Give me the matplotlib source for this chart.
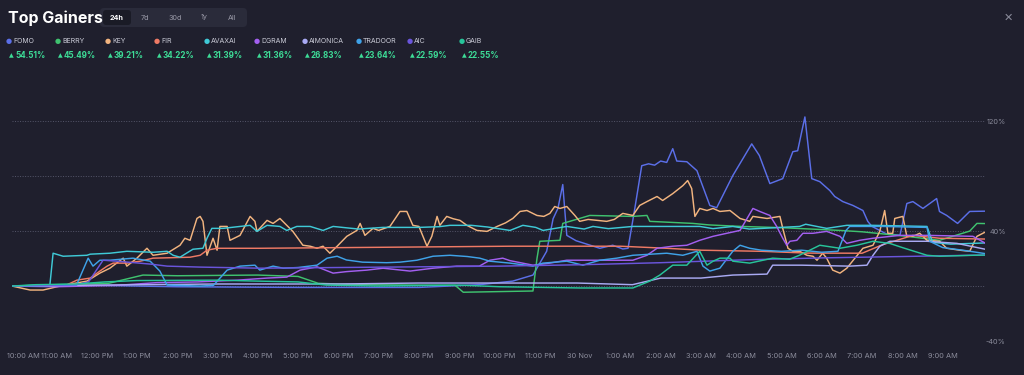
import matplotlib
matplotlib.use("Agg")
import matplotlib.pyplot as plt
import matplotlib.patches as mpatches
from matplotlib.transforms import IdentityTransform, ScaledTranslation

plt.rcParams['font.family'] = ['Inter', 'DejaVu Sans']

# ---- data (hours since midnight of the first day, percent change) ----
names = ["FOMO", "BERRY", "KEY", "FIR", "AVAXAI", "DGRAM", "AIMONICA", "TRADOOR", "AIC", "GAIB"]
gains = [54.51, 45.49, 39.21, 34.22, 31.39, 31.36, 26.83, 23.64, 22.59, 22.55]
colors = ["#5b6fe8", "#3fc26f", "#f2b47f", "#ef7a65", "#3fc9d6",
          "#a35ff0", "#a9aaf3", "#3fa2e8", "#6a55dc", "#27c49a"]

fomo_t = [9.9, 12.0, 14.0, 17.0, 20.0, 21.5, 22.33, 22.83, 23.17, 23.33, 23.45, 23.57, 23.67, 23.9,
          24.49, 24.81, 25.06, 25.19, 25.35, 25.53, 25.7, 25.85, 26.0, 26.15, 26.3, 26.4, 26.65, 26.9,
          27.22, 27.39, 27.79, 28.26, 28.45, 28.71, 29.03, 29.28, 29.4, 29.58, 29.75, 29.95, 30.2,
          30.32, 30.52, 30.77, 31.02, 31.14, 31.24, 31.6, 31.94, 32.11, 32.26, 32.51, 32.85, 32.92,
          33.1, 33.37, 33.67, 34.05]
fomo_v = [0, 0.5, -0.5, -1, -1, 1, 3.6, 8, 25.3, 49, 56.5, 73.9, 36.9, 33,
          27.5, 29.7, 27, 27.5, 55, 87.6, 89, 88, 91, 90, 100, 91, 90.5, 84,
          58.7, 57, 80.4, 103.5, 95, 74.6, 78.2, 97.8, 98.5, 123.1, 78.2, 76, 69.5,
          65.2, 61.5, 58.7, 55, 47.1, 43.5, 38, 37, 60.1, 61.5, 56.5, 63.7, 54.3,
          51.4, 45.6, 54.3, 54.51]

berry_t = [9.9, 11.0, 12.3, 13.15, 14.0, 16.0, 17.0, 17.5, 18.5, 20.9, 21.1, 22.83, 22.93, 23.0,
           23.5, 23.57, 24.24, 25.31, 25.66, 25.73, 26.8, 27.2, 28.0, 29.0, 30.45, 31.0, 32.11,
           32.92, 33.67, 33.85, 34.05]
berry_v = [0, 1, 2, 8, 7.5, 8, 7, 2, 1, 0.5, -4.5, -3.6, 20, 32.6,
           33.3, 45.6, 51.4, 50.7, 51.4, 47.1, 45.6, 44.5, 43.4, 42.5, 40.5, 39.5, 36.2,
           33.3, 40, 45.6, 45.49]

key_t = [9.9, 10.35, 10.67, 11.09, 11.76, 12.08, 12.33, 12.66, 12.75, 13.0, 13.25, 13.4, 13.75,
         14.07, 14.19, 14.32, 14.49, 14.57, 14.64, 14.74, 14.89, 14.99, 15.06, 15.24, 15.31, 15.56,
         15.81, 15.93, 15.98, 16.23, 16.38, 16.55, 16.72, 16.87, 17.12, 17.3, 17.47, 17.62, 17.79,
         17.97, 18.21, 18.46, 18.54, 18.66, 18.86, 19.0, 19.28, 19.53, 19.7, 19.85, 20.0, 20.15,
         20.2, 20.32, 20.45, 20.52, 20.69, 20.85, 21.02, 21.19, 21.44, 21.69, 21.94, 22.15, 22.33,
         22.51, 22.68, 22.93, 23.1, 23.25, 23.37, 23.5, 23.67, 23.87, 23.99, 24.2, 24.42, 24.66,
         24.85, 25.06, 25.31, 25.48, 25.66, 25.91, 26.05, 26.3, 26.55, 26.67, 26.77, 26.85, 26.97,
         27.15, 27.3, 27.47, 27.72, 27.97, 28.21, 28.29, 28.64, 28.96, 29.03, 29.16, 29.28, 29.45,
         29.63, 29.78, 29.88, 30.02, 30.12, 30.27, 30.45, 30.62, 30.82, 31.02, 31.27, 31.44, 31.56,
         31.64, 31.76, 31.81, 32.01, 32.11, 32.26, 32.43, 32.61, 32.92, 33.1, 33.42, 33.67, 33.85,
         34.05]
key_v = [0, -2.9, -2.9, 0, 3.6, 9.4, 13.0, 20.3, 14.5, 20.3, 27.5, 22.4, 23.9,
         29.7, 34.8, 33.3, 49.2, 50.7, 47.1, 22.4, 34.8, 26.1, 43.4, 43.4, 33.3, 36.9,
         50.7, 47.1, 39.8, 47.8, 45.6, 49.2, 44.2, 39.8, 29.7, 29.0, 27.5, 29.0, 23.9,
         29.0, 36.2, 40.5, 45.6, 36.9, 42.0, 40.5, 43.4, 54.3, 54.3, 44.2, 43.4, 32.6,
         29.0, 36.2, 50.7, 44.2, 50.7, 49.0, 47.8, 44.2, 40.5, 39.8, 43.4, 46.0, 49.2,
         54.3, 55.0, 51.4, 50.7, 52.9, 57.9, 56.5, 57.9, 51.4, 47.1, 48.5, 47.8, 47.1,
         48.5, 52.9, 51.4, 58.7, 61.5, 65.2, 62.3, 67.3, 73.1, 76.8, 71.0, 50.7, 56.5,
         55.0, 56.5, 54.3, 55.0, 49.2, 47.1, 50.7, 49.2, 50.7, 42.0, 27.5, 25.3, 25.3,
         22.4, 21.7, 18.8, 23.9, 20.3, 11.6, 9.4, 13.0, 20.3, 27.5, 29.7, 40.0, 55.0,
         38.4, 38.4, 49.2, 50.7, 36.2, 36.2, 38.4, 33.3, 32.6, 27.5, 26.1, 25.3, 36.2,
         39.21]

fir_t = [9.9, 11.2, 11.51, 11.84, 12.08, 12.26, 12.41, 12.75, 13.08, 13.4, 14.32, 14.57, 14.74,
         14.99, 16.05, 19.0, 22.26, 25.0, 26.15, 27.0, 28.5, 29.63, 31.0, 31.5, 32.26, 32.92, 34.05]
fir_v = [0, 0, 4.3, 5.8, 10.9, 14.5, 16.7, 16.7, 18.1, 20.3, 21.0, 22.4, 26.1,
         27.5, 27.5, 28.2, 29.0, 29.0, 27.5, 26.1, 25.3, 24.0, 23.9, 30, 36.9, 34.8, 34.22]

avax_t = [9.9, 10.84, 10.92, 11.17, 11.76, 11.84, 12.33, 12.75, 13.4, 13.75, 13.9, 14.07, 14.39,
          14.64, 14.74, 14.86, 15.14, 15.56, 15.81, 15.98, 16.23, 16.55, 16.72, 16.97, 17.3, 17.62,
          17.87, 18.5, 19.11, 20.0, 20.5, 20.77, 21.3, 21.7, 22.26, 22.58, 22.9, 23.08, 23.67,
          24.1, 24.32, 24.7, 25.31, 26.0, 26.97, 27.3, 27.79, 28.2, 29.45, 29.6, 30.12, 30.62,
          31.27, 32.61, 32.75, 33.2, 34.05]
avax_v = [0, 0.7, 23.9, 21.7, 22.4, 23.2, 23.9, 25.3, 24.6, 25.3, 22.4, 21.0, 26.8,
          27.5, 34.8, 42.0, 42.0, 43.4, 44.2, 39.8, 44.2, 43.4, 40.5, 43.4, 43.4, 40.5,
          43.4, 41.5, 42.7, 42.7, 43.2, 44.2, 44.2, 43.0, 40.5, 44.2, 42.7, 40.5, 43.4,
          41.5, 43.4, 41.8, 43.4, 43.4, 43.4, 41.8, 43.4, 41.5, 43.4, 45.0, 42.0, 44.2,
          44.2, 43.4, 31.8, 30.5, 31.39]

dgram_t = [9.9, 11.0, 12.5, 13.5, 14.5, 15.5, 16.23, 16.72, 17.05, 17.47, 17.87, 18.2, 18.71,
           19.11, 19.78, 20.35, 20.94, 21.5, 21.76, 22.08, 22.26, 22.83, 23.25, 23.67, 24.49,
           25.31, 25.66, 25.91, 26.3, 26.65, 26.97, 27.3, 27.64, 27.97, 28.29, 28.46, 28.71, 28.88,
           29.03, 29.13, 29.21, 29.38, 29.53, 29.78, 30.12, 30.45, 30.62, 30.94, 31.27, 31.94,
           32.61, 33.75, 34.05]
dgram_v = [0, -0.5, 0.5, 2.5, 3, 4.3, 5.8, 6.5, 11.6, 14, 9.4, 10.5, 11.6,
           13.0, 10.9, 13.0, 14.5, 14.5, 18.8, 20.3, 18.5, 15.2, 16.7, 18.8, 18.8,
           18.8, 22.4, 27.5, 29.0, 29.7, 33.3, 36.2, 38.4, 40.5, 56.5, 54.3, 51.4, 43.4,
           34.8, 29.7, 32.6, 33.3, 38.4, 38.4, 39.8, 36.2, 31.1, 33.3, 34.8, 36.9,
           36.9, 36.2, 31.36]

aimon_t = [9.9, 12.0, 15.0, 18.0, 20.0, 22.0, 23.5, 23.92, 25.3, 26.0, 27.0, 27.79, 28.64,
           28.78, 29.5, 30.69, 31.12, 31.27, 31.44, 31.69, 32.61, 33.35, 34.05]
aimon_v = [0, 0.7, 1.5, 1.5, 2.2, 2.2, 2.2, 2.2, 1, 5.8, 5.8, 8.0, 8.7,
           15.2, 15.2, 14.5, 15.2, 22.4, 29.0, 32.6, 32.6, 31.1, 26.83]

trad_t = [9.9, 11.5, 11.79, 11.91, 12.08, 12.33, 12.9, 13.33, 13.57, 13.75, 14.57, 14.9, 15.24,
          15.56, 15.93, 16.05, 16.38, 16.63, 17.0, 17.47, 17.72, 17.97, 18.2, 18.6, 19.2, 19.53,
          19.95, 20.35, 20.77, 21.2, 21.51, 21.76, 22.26, 22.83, 23.08, 23.67, 24.07, 24.49,
          24.91, 25.31, 26.15, 26.55, 26.9, 27.05, 27.22, 27.47, 27.79, 27.97, 28.21, 28.5, 29.0,
          29.5, 30.0, 30.4, 30.6, 30.69, 31.5, 32.61, 32.68, 33.0, 33.5, 34.05]
trad_v = [0, 0.7, 20.3, 14.5, 18.8, 18.8, 20.3, 18.1, 10.9, 0.7, 0, 0.5, 11.6,
          14.5, 15.2, 11.6, 14.5, 13.0, 13.5, 15.2, 20.3, 21.7, 19, 17.4, 17.0, 17.4,
          18.8, 21.7, 22.4, 21.5, 20.3, 18.1, 16.7, 14.5, 16.7, 18.1, 15.2, 18.8,
          20.3, 22.4, 23.9, 22.4, 25.3, 14.5, 10.9, 13.0, 25.3, 29.7, 27.5, 26.1, 25.3,
          26.1, 24.6, 25.3, 40.5, 43.4, 43.4, 42.7, 32.6, 28.0, 26.1, 23.64]

aic_t = [9.9, 11.5, 11.8, 12.16, 12.5, 13.33, 13.75, 14.57, 16.05, 18.0, 20.0, 22.0, 24.0,
         26.0, 28.0, 30.0, 32.0, 34.05]
aic_v = [0, 1, 3, 18.8, 18.1, 16, 14.5, 13.8, 13.0, 13.5, 14.0, 14.5, 15.5,
         17.0, 19.0, 20.5, 21.5, 22.59]

gaib_t = [9.9, 10.5, 11.5, 12.2, 13.0, 15.0, 16.0, 17.0, 17.7, 19.0, 21.0, 22.0, 24.0, 25.31,
          25.73, 25.98, 26.3, 26.65, 26.97, 27.15, 27.3, 27.47, 27.72, 27.79, 28.21, 28.78, 29.2,
          29.45, 29.95, 30.45, 30.87, 31.27, 31.69, 32.0, 32.61, 32.92, 33.75, 34.05]
gaib_v = [0, 1, 1.5, 3, 4, 4.3, 3.6, 3, 0.7, 0, 0.7, -0.5, -1.4, -1.4,
          3.6, 8.0, 15.2, 15.2, 25.3, 15.2, 18.1, 20.3, 20.3, 18.1, 16.7, 20.3, 19.5,
          22.5, 29.7, 27.5, 29.7, 32.6, 31.0, 28.0, 22.4, 21.7, 22.4, 22.55]

series_t = [fomo_t, berry_t, key_t, fir_t, avax_t, dgram_t, aimon_t, trad_t, aic_t, gaib_t]
series_v = [fomo_v, berry_v, key_v, fir_v, avax_v, dgram_v, aimon_v, trad_v, aic_v, gaib_v]

tick_hours = list(range(10, 34))
tick_labels = ["10:00 AM", "11:00 AM", "12:00 PM", "1:00 PM", "2:00 PM", "3:00 PM", "4:00 PM",
               "5:00 PM", "6:00 PM", "7:00 PM", "8:00 PM", "9:00 PM", "10:00 PM", "11:00 PM",
               "30 Nov", "1:00 AM", "2:00 AM", "3:00 AM", "4:00 AM", "5:00 AM", "6:00 AM",
               "7:00 AM", "8:00 AM", "9:00 AM"]
grid_levels = [-40, 0, 40, 80, 120]
label_levels = [120, 40, -40]

tabs = ["24h", "7d", "30d", "1y", "All"]

# ---- style ----
bg = "#1f1f2d"
muted = "#8b8c9b"
W, H = 1024, 375

fig = plt.figure(figsize=(W / 100, H / 100), dpi=100, facecolor=bg)
ax = fig.add_axes([12 / W, 1 - 341 / H, 973 / W, 261 / H])
ax.set_facecolor(bg)

for lvl in grid_levels:
    ax.axhline(lvl, color="#55566a", lw=0.7, ls=(0, (1, 1.6)), zorder=0)

for t, v, c in zip(series_t, series_v, colors):
    ax.plot(t, v, color=c, lw=1.05, solid_joinstyle="round", zorder=2)

ax.set_xlim(9.9, 34.05)
ax.set_ylim(-40, 150)
for s in ax.spines.values():
    s.set_visible(False)

ax.set_xticks(tick_hours)
ax.set_xticklabels(tick_labels)
ax.tick_params(axis="x", length=0, pad=9, labelsize=5.3, labelcolor=muted)
first = ax.get_xticklabels()[0]
first.set_ha("left")
first.set_transform(first.get_transform() + ScaledTranslation(-9 / 100, 0, fig.dpi_scale_trans))

ax.yaxis.tick_right()
ax.set_yticks(label_levels)
ax.set_yticklabels([f"{l}%" for l in label_levels])
ax.tick_params(axis="y", length=0, pad=15, labelsize=5.3, labelcolor=muted)
for lab in ax.get_yticklabels():
    lab.set_ha("right")


def ftext(x, y, s, **kw):
    fig.text(x / W, 1 - y / H, s, **kw)


# title and tabs
ftext(8, 18, "Top Gainers", color="white", fontsize=11.5, fontweight="bold", va="center")
fig.add_artist(mpatches.FancyBboxPatch((100, H - 27), 147, 19,
                                       boxstyle="round,pad=0,rounding_size=4",
                                       transform=IdentityTransform(), fc="#2a2b3a", ec="none"))
fig.add_artist(mpatches.FancyBboxPatch((103, H - 25), 28, 15,
                                       boxstyle="round,pad=0,rounding_size=3",
                                       transform=IdentityTransform(), fc="#1a1b26", ec="none"))
tab_x = [117, 145, 175, 204, 232]
for i, (tx, lab) in enumerate(zip(tab_x, tabs)):
    ftext(tx, 17.5, lab, color="white" if i == 0 else "#9a9aa8", fontsize=5.2,
          fontweight="bold" if i == 0 else "normal", ha="center", va="center")

# close icon
ftext(1008, 18, "\u2715", color=muted, fontsize=8, ha="center", va="center",
      family=["DejaVu Sans"])

# legend
legend_x = [9, 58, 108, 157, 207, 257, 305, 359, 410, 462]
for lx, name, g, c in zip(legend_x, names, gains, colors):
    ftext(lx, 41, "\u25cf", color=c, fontsize=5, ha="center", va="center", family=["DejaVu Sans"])
    ftext(lx + 4, 41, name, color="#c9cad6", fontsize=5, ha="left", va="center")
    ftext(lx + 2, 55.5, "\u25b2", color="#3ddc97", fontsize=4.4, ha="center", va="center",
          family=["DejaVu Sans"])
    ftext(lx + 6, 55.5, f"{g:.2f}%", color="#3ddc97", fontsize=5.8, fontweight="bold",
          ha="left", va="center")

fig.savefig("out.png", dpi=100, facecolor=bg)
